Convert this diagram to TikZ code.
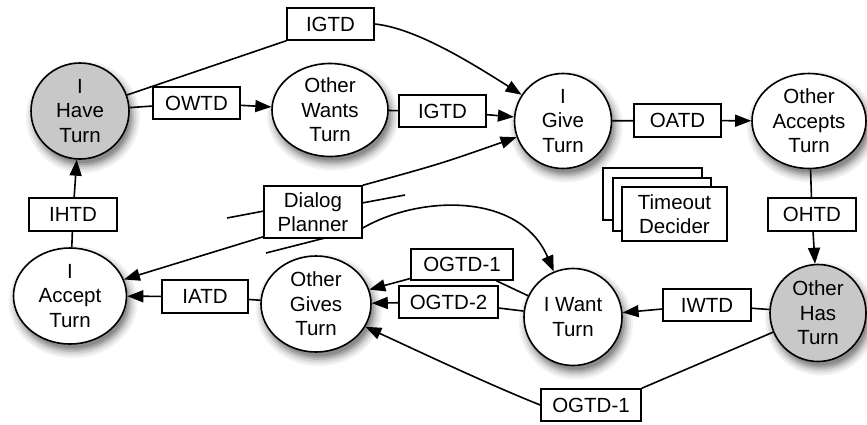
\documentclass[tikz,border=0pt]{standalone}
\usepackage{fontspec}
\setmainfont{Liberation Sans}
\usetikzlibrary{shapes.geometric,arrows.meta}
\definecolor{turngray}{RGB}{200,200,200}
\newcommand{\labelfont}{\fontsize{20.5}{24.5}\selectfont}
% soft shadow under a state, built from graded grey rings:
% centre x, centre y, x radius, y radius
\newcommand{\stateshadow}[4]{%
  \foreach \grow/\shade in {8/5,6/10,4/17,2/26,0/36,-2/45}{%
    \fill[black!\shade] (#1+3,#2+6) ellipse [x radius=#3+\grow, y radius=#4+\grow];
  }}
\tikzset{
  state/.style={ellipse, draw, line width=1.6pt, fill=white, inner sep=0pt,
    align=center, font=\labelfont},
  tbox/.style={rectangle, draw, line width=1.5pt, fill=white, inner sep=0pt,
    minimum width=87pt, minimum height=32pt, align=center, font=\labelfont},
  link/.style={line width=1.6pt},
  arr/.style={line width=1.6pt, -{Triangle[length=16pt,width=12pt]}},
}
\begin{document}
\begin{tikzpicture}[x=1pt,y=-1pt]
\useasboundingbox (0,0) rectangle (867,424);

% shadows of the turn states
\stateshadow{80}{111}{49}{48}
\stateshadow{330}{110}{58}{46.5}
\stateshadow{563}{121}{48.5}{47.5}
\stateshadow{809}{121}{57}{47.5}
\stateshadow{70}{296}{56.5}{48}
\stateshadow{316}{304}{55}{48}
\stateshadow{573}{317}{49}{48.5}
\stateshadow{818}{313}{48}{48.5}

% turn states
\node[state, minimum width=98pt, minimum height=96pt, fill=turngray] (ihave) at (80,111) {I\\Have\\Turn};
\node[state, minimum width=116pt, minimum height=93pt] (owant) at (330,110) {Other\\Wants\\Turn};
\node[state, minimum width=97pt, minimum height=95pt] (igive) at (563,121) {I\\Give\\Turn};
\node[state, minimum width=114pt, minimum height=95pt] (oaccept) at (809,121) {Other\\Accepts\\Turn};
\node[state, minimum width=113pt, minimum height=96pt] (iaccept) at (70,296) {I\\Accept\\Turn};
\node[state, minimum width=110pt, minimum height=96pt] (ogives) at (316,304) {Other\\Gives\\Turn};
\node[state, minimum width=98pt, minimum height=97pt] (iwant) at (573,317) {I Want\\Turn};
\node[state, minimum width=96pt, minimum height=97pt, fill=turngray] (ohas) at (818,313) {Other\\Has\\Turn};

% transition deciders
\node[tbox] (igtdA) at (330.5,24) {IGTD};
\node[tbox] (owtd) at (196.5,103) {OWTD};
\node[tbox] (igtdB) at (442.5,111) {IGTD};
\node[tbox, minimum height=33pt] (oatd) at (677.5,120.5) {OATD};
\node[tbox, minimum width=88pt, minimum height=33pt] (ohtd) at (812,214.5) {OHTD};
\node[tbox, minimum width=88pt, minimum height=33pt] (ihtd) at (73,214.5) {IHTD};
\node[tbox, minimum width=86pt, minimum height=33pt] (iatd) at (205,296.5) {IATD};
\node[tbox, minimum width=102pt, minimum height=31pt] (ogtdA) at (462,264.5) {OGTD-1};
\node[tbox, minimum width=99pt] (ogtdB) at (448.5,302) {OGTD-2};
\node[tbox, minimum width=88pt] (iwtd) at (707,305) {IWTD};
\node[tbox, minimum width=100pt] (ogtdC) at (591,405) {OGTD-1};
\node[tbox, minimum width=98pt, minimum height=52pt] (planner) at (313,212) {Dialog\\Planner};

% timeout decider stack
\node[tbox, minimum width=99pt, minimum height=52pt] (toutA) at (652.5,194) {};
\node[tbox, minimum width=98pt, minimum height=53pt] (toutB) at (662,204.5) {};
\node[tbox, minimum width=105pt, minimum height=54pt] (toutC) at (674.5,214) {Timeout\\Decider};

% transitions along the cycle
\draw[link] (ihave) -- (igtdA.south west);
\draw[arr] (igtdA.east) .. controls (415,28) and (470,62) .. (igive);
\draw[link] (ihave) -- (owtd);
\draw[arr] (owtd) -- (owant);
\draw[link] (owant) -- (igtdB);
\draw[arr] (igtdB) -- (igive);
\draw[link] (igive) -- (oatd);
\draw[arr] (oatd) -- (oaccept);
\draw[link] (oaccept) -- (ohtd);
\draw[arr] (ohtd) -- (ohas);
\draw[link] (ohas) -- (iwtd);
\draw[arr] (iwtd) -- (iwant);
\draw[link] (iwant) -- (ogtdA);
\draw[arr] (ogtdA) -- (ogives);
\draw[link] (iwant) -- (ogtdB);
\draw[arr] (ogtdB) -- (ogives);
\draw[link] (ohas) -- (ogtdC.north east);
\draw[arr] (ogtdC.west) .. controls (490,385) and (420,352) .. (ogives);
\draw[link] (ogives) -- (iatd);
\draw[arr] (iatd) -- (iaccept);
\draw[link] (iaccept) -- (ihtd);
\draw[arr] (ihtd) -- (ihave);

% dialog planner links
\draw[arr] (planner.north east) .. controls (440,164) .. (igive);
\draw[arr] (planner.south west) ++(0,-2) -- (iaccept);
\draw[arr] (planner.east) ++(0,16) .. controls (420,195) and (520,192) .. (iwant);

% planner stubs
\coordinate (stubLa) at (227,218);
\coordinate (stubLb) at (264,211);
\coordinate (stubRa) at (362,203);
\coordinate (stubRb) at (405,195);
\coordinate (stubBa) at (266,253);
\coordinate (stubBb) at (325,238);
\draw[link] (stubLa) -- (stubLb);
\draw[link] (stubRa) -- (stubRb);
\draw[link] (stubBa) -- (stubBb);
\end{tikzpicture}
\end{document}
